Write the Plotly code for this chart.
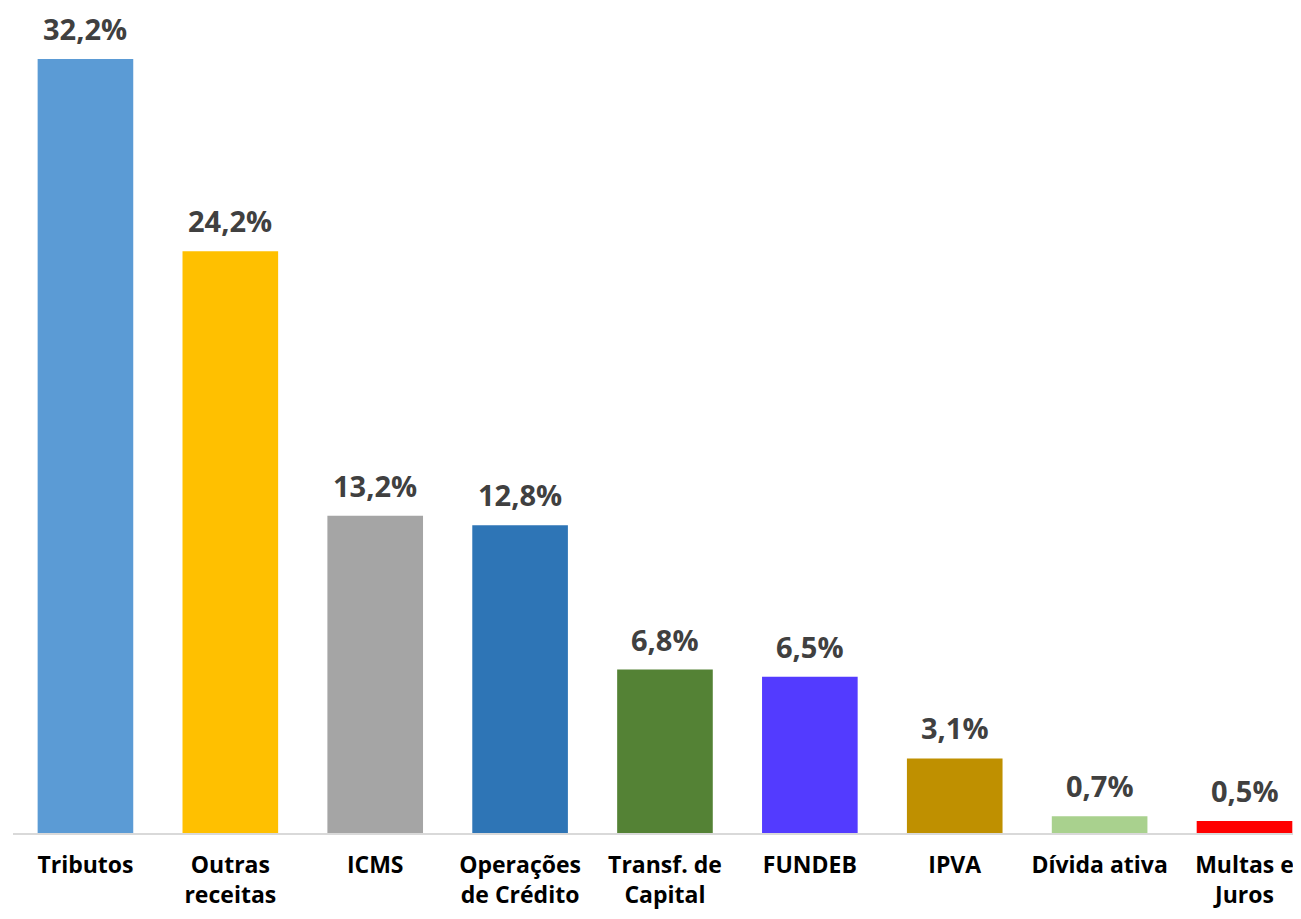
import plotly.graph_objects as go

categorias = ["Tributos", "Outras<br>receitas", "ICMS", "Operações<br>de Crédito",
              "Transf. de<br>Capital", "FUNDEB", "IPVA", "Dívida ativa", "Multas e<br>Juros"]
valores = [32.2, 24.2, 13.2, 12.8, 6.8, 6.5, 3.1, 0.7, 0.5]
rotulos = ["32,2%", "24,2%", "13,2%", "12,8%", "6,8%", "6,5%", "3,1%", "0,7%", "0,5%"]
cores = ["#5B9BD5", "#FFC000", "#A5A5A5", "#2E75B6", "#548235",
         "#533BFF", "#BF9000", "#A9D18E", "#FF0000"]

fig = go.Figure(go.Bar(
    x=categorias,
    y=valores,
    marker=dict(color=cores, line=dict(width=0)),
    hovertemplate="<b>%{x}</b><br>%{y}%<extra></extra>",
))

for cat, val, txt in zip(categorias, valores, rotulos):
    fig.add_annotation(
        x=cat, y=val, text=f"<b>{txt}</b>", showarrow=False,
        yanchor="bottom", yshift=9,
        font=dict(family="Open Sans", size=29, color="#404040"),
    )

fig.update_layout(
    width=1293,
    height=911,
    plot_bgcolor="white",
    paper_bgcolor="white",
    margin=dict(t=0, l=5, r=0, b=86),
    bargap=0.34,
    showlegend=False,
    font=dict(family="Open Sans", color="black"),
    xaxis=dict(
        range=[-0.5, 8.39],
        showline=True,
        linecolor="#D9D9D9",
        linewidth=2,
        ticks="",
        ticklabelstandoff=10,
        ticklabeloverflow="allow",
        tickfont=dict(family="Open Sans", size=23, color="black", weight="bold"),
    ),
    yaxis=dict(
        range=[0, 34.32],
        showgrid=False,
        showticklabels=False,
        zeroline=False,
    ),
)

fig.write_html("out.html")
